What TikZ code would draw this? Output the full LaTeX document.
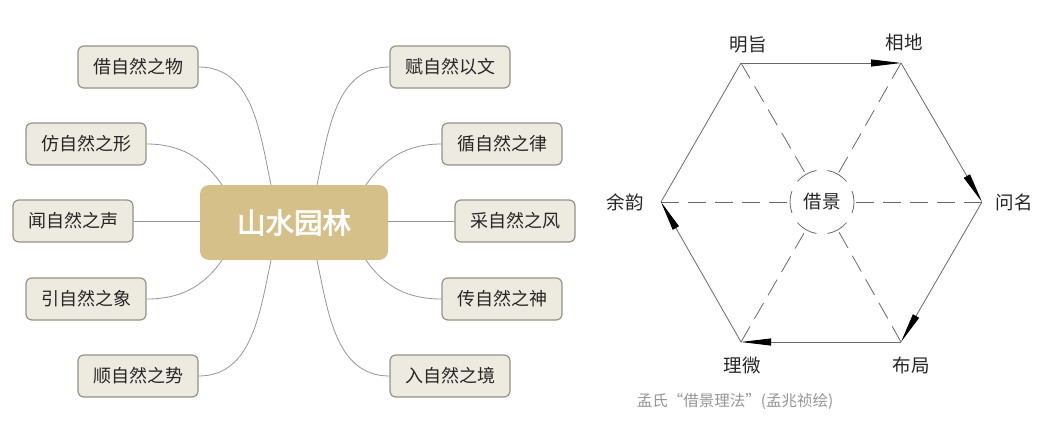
\documentclass[tikz,border=0pt]{standalone}
\usepackage{fontspec}
\usetikzlibrary{arrows.meta,calc}
\newfontfamily\cjk{Noto Sans CJK SC}
\newfontfamily\cjkb[FakeBold=2.5]{Noto Sans CJK SC}
\definecolor{hubfill}{RGB}{214,192,138}
\definecolor{boxfill}{RGB}{237,234,224}
\definecolor{boxborder}{RGB}{150,146,135}
\definecolor{linkgray}{RGB}{150,150,150}
\definecolor{hexgray}{RGB}{105,105,105}
\definecolor{capgray}{RGB}{150,150,150}
\tikzset{
  leaf/.style={draw=boxborder, line width=1.2pt, fill=boxfill, rounded corners=6pt,
    minimum width=120pt, minimum height=42pt, inner sep=0pt,
    font=\cjk\fontsize{18}{18}\selectfont, text=black!85},
  hub/.style={fill=hubfill, rounded corners=9pt, minimum width=188pt, minimum height=75pt,
    inner sep=0pt, text=white, font=\cjkb\fontsize{28.5}{28.5}\selectfont},
  link/.style={draw=linkgray, line width=0.8pt},
  hexedge/.style={draw=hexgray, line width=0.8pt, -{Triangle[length=30pt,width=7pt,color=black]}},
  hexplain/.style={draw=hexgray, line width=0.8pt},
  spoke/.style={draw=hexgray, line width=0.8pt, dash pattern=on 18pt off 9pt},
  ring/.style={draw=hexgray, line width=0.8pt},
  lbl/.style={font=\cjk\fontsize{18.5}{18.5}\selectfont, text=black!85, inner sep=1pt},
  captext/.style={font=\cjk\fontsize{15.5}{15.5}\selectfont, text=capgray, inner sep=0pt}
}
\begin{document}
\begin{tikzpicture}[x=1pt,y=-1pt]
\useasboundingbox (0,0) rectangle (1052,444);
\fill[white] (0,0) rectangle (1052,444);
% ---------- mind map ----------
\node[hub] (hub) at (294,222.5) {山水园林};
\node[leaf] (a1) at (138,67) {借自然之物};
\node[leaf] (a2) at (86,144) {仿自然之形};
\node[leaf] (a3) at (73,221) {闻自然之声};
\node[leaf] (a4) at (86,299) {引自然之象};
\node[leaf] (a5) at (138,376) {顺自然之势};
\node[leaf] (b1) at (450,67) {赋自然以文};
\node[leaf] (b2) at (502,144) {循自然之律};
\node[leaf] (b3) at (515,221) {采自然之风};
\node[leaf] (b4) at (502,299) {传自然之神};
\node[leaf] (b5) at (450,376) {入自然之境};
\draw[link] (a1.east) to[out=0,in=102] ($(hub.north)+(-23,0)$);
\draw[link] (a2.east) to[out=0,in=125] ($(hub.north)+(-72,0)$);
\draw[link] (a3.east) -- (hub.west |- a3.east);
\draw[link] (a4.east) to[out=0,in=-125] ($(hub.south)+(-72,0)$);
\draw[link] (a5.east) to[out=0,in=-102] ($(hub.south)+(-23,0)$);
\draw[link] (b1.west) to[out=180,in=78] ($(hub.north)+(23,0)$);
\draw[link] (b2.west) to[out=180,in=55] ($(hub.north)+(72,0)$);
\draw[link] (b3.west) -- (hub.east |- b3.west);
\draw[link] (b4.west) to[out=180,in=-55] ($(hub.south)+(72,0)$);
\draw[link] (b5.west) to[out=180,in=-78] ($(hub.south)+(23,0)$);
% ---------- hexagon ----------
\coordinate (v1) at (741,63);
\coordinate (v2) at (901,63);
\coordinate (v3) at (982,202);
\coordinate (v4) at (901,342);
\coordinate (v5) at (741,342);
\coordinate (v6) at (661,202);
\node[circle, minimum size=64pt, inner sep=0pt, font=\cjk\fontsize{18.5}{18.5}\selectfont, text=black!85] (jj) at (822,202) {借景};
\foreach \a in {0,60,120,180,240,300}
  \draw[ring] ($(jj.center)+(\a-20:32)$) arc[start angle=\a-20, end angle=\a+20, radius=32];
\foreach \v in {v1,v2,v3,v4,v5,v6}
  \draw[spoke] (\v) -- (jj);
\draw[hexedge] (v1) -- (v2);
\draw[hexedge] (v2) -- (v3);
\draw[hexedge] (v3) -- (v4);
\draw[hexedge] (v4) -- (v5);
\draw[hexedge] (v5) -- (v6);
\draw[hexplain] (v6) -- (v1);
\node[lbl] (l1) at (748,45) {明旨};
\node[lbl] (l2) at (904,42) {相地};
\node[lbl] (l3) at (1014,202) {问名};
\node[lbl] (l4) at (911,365) {布局};
\node[lbl] (l5) at (742,365) {理微};
\node[lbl] (l6) at (625,202) {余韵};
\node[captext] (capt) at (735,401) {孟氏“借景理法”(孟兆祯绘)};
\end{tikzpicture}
\end{document}
